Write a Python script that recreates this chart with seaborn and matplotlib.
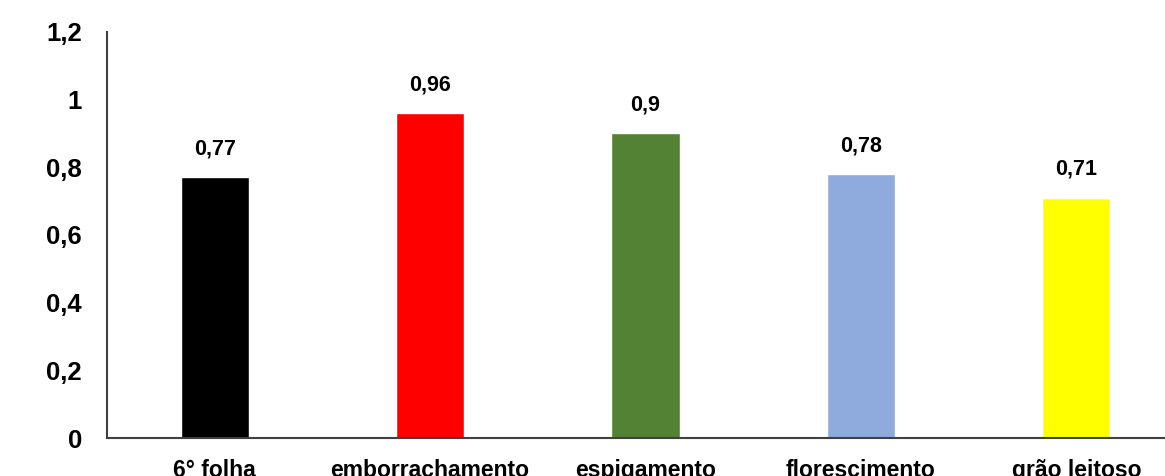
import matplotlib
matplotlib.use("Agg")
import matplotlib.pyplot as plt
import seaborn as sns
import pandas as pd

# Stage of the crop and the value measured at each stage
stages = ["6° folha", "emborrachamento", "espigamento", "florescimento", "grão leitoso"]
values = [0.77, 0.96, 0.90, 0.78, 0.71]
value_labels = ["0,77", "0,96", "0,9", "0,78", "0,71"]
bar_colors = ["#000000", "#FF0000", "#548235", "#8FAADC", "#FFFF00"]
y_ticks = [0, 0.2, 0.4, 0.6, 0.8, 1.0, 1.2]
y_tick_labels = ["0", "0,2", "0,4", "0,6", "0,8", "1", "1,2"]

sns.set_theme(style="white")
plt.rcParams["font.family"] = ["Liberation Sans", "DejaVu Sans"]

df = pd.DataFrame({"stage": stages, "value": values})

fig = plt.figure(figsize=(11.65, 4.76), dpi=100)
ax = fig.add_axes([107 / 1165, 38 / 476, 1077 / 1165, 406 / 476])

sns.barplot(data=df, x="stage", y="value", hue="stage", palette=bar_colors,
            order=stages, hue_order=stages, width=0.316, saturation=1,
            legend=False, ax=ax)

for patch, text in zip(ax.patches, value_labels):
    ax.annotate(text, (patch.get_x() + patch.get_width() / 2, patch.get_height()),
                xytext=(0, 13), textcoords="offset points",
                ha="center", va="bottom", fontsize=15.5, fontweight="bold",
                color="#000000")

ax.set_xlim(-0.5, 4.5)
ax.set_ylim(0, 1.2)
ax.set_yticks(y_ticks)
ax.set_yticklabels(y_tick_labels, fontsize=18.5, fontweight="bold", color="#000000")
ax.set_xticks(range(len(stages)))
ax.set_xticklabels(stages, fontsize=16.5, fontweight="bold", color="#000000")
ax.tick_params(axis="y", length=0, pad=18)
ax.tick_params(axis="x", length=0, pad=15)
ax.set_xlabel("")
ax.set_ylabel("")

for side in ["top", "right"]:
    ax.spines[side].set_visible(False)
for side in ["left", "bottom"]:
    ax.spines[side].set_color("#404040")
    ax.spines[side].set_linewidth(1.5)

fig.savefig("out.png", dpi=100)
